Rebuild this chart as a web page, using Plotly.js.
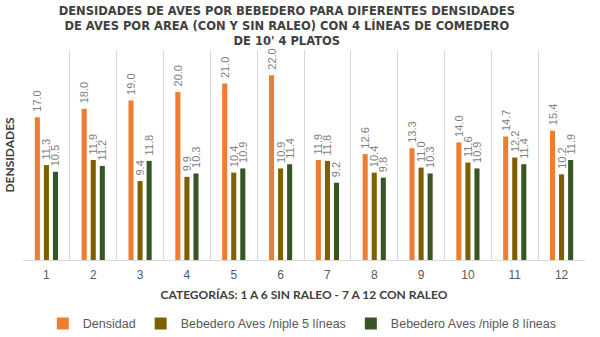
<!DOCTYPE html>
<html>
<head>
<meta charset="utf-8">
<script src="https://cdn.plot.ly/plotly-3.0.1.min.js"></script>
<style>html,body{margin:0;padding:0;background:#fff;}#chart{width:600px;height:337px;}</style>
</head>
<body>
<div id="chart"></div>
<script>
const categories = ["1","2","3","4","5","6","7","8","9","10","11","12"];
const densidad = [17.0, 18.0, 19.0, 20.0, 21.0, 22.0, 11.9, 12.6, 13.3, 14.0, 14.7, 15.4];
const niple5 = [11.3, 11.9, 9.4, 9.9, 10.4, 10.9, 11.8, 10.4, 11.0, 11.6, 12.2, 10.2];
const niple8 = [10.5, 11.2, 11.8, 10.3, 10.9, 11.4, 9.2, 9.8, 10.3, 10.9, 11.4, 11.9];
const seriesNames = ["Densidad", "Bebedero Aves /niple 5 líneas", "Bebedero Aves /niple 8 líneas"];
const seriesColors = ["#ED7D31", "#7F6000", "#375623"];

const labelFont = {family: "Liberation Sans, Arial, sans-serif", size: 11, color: "#7f7f7f"};
const vals = [densidad, niple5, niple8];
const data = vals.map((v, i) => ({
  type: "bar",
  x: categories,
  y: v,
  name: seriesNames[i],
  marker: {color: seriesColors[i]},
  texttemplate: "\u2002%{y:.1f}",
  textposition: "outside",
  textangle: -90,
  textfont: labelFont,
  constraintext: "none",
  cliponaxis: false,
  hoverinfo: "none"
}));

const layout = {
  width: 600, height: 337,
  margin: {l: 23, r: 15, t: 50, b: 77},
  paper_bgcolor: "#ffffff",
  plot_bgcolor: "#ffffff",
  barmode: "group",
  bargap: 0.42,
  bargroupgap: 0.44,
  title: {
    text: "DENSIDADES DE AVES POR BEBEDERO PARA DIFERENTES DENSIDADES<br>DE AVES POR AREA (CON Y SIN RALEO) CON 4 LÍNEAS DE COMEDERO<br>DE 10' 4 PLATOS",
    font: {family: "DejaVu Sans, sans-serif", size: 11.5, color: "#404040", weight: "bold"},
    x: 0.478, xanchor: "center",
    yref: "container", y: 0.956, yanchor: "middle"
  },
  xaxis: {
    type: "category",
    automargin: false,
    tickson: "boundaries",
    showgrid: true,
    gridcolor: "#d9d9d9",
    gridwidth: 1,
    showline: true,
    linecolor: "#d9d9d9",
    ticks: "",
    ticklabelstandoff: 4,
    tickfont: {family: "Liberation Sans, Arial, sans-serif", size: 12, color: "#595959"},
    title: {
      text: "CATEGORÍAS: 1 A 6 SIN RALEO - 7 A 12 CON RALEO",
      font: {family: "Lato, sans-serif", size: 12, color: "#404040", weight: "bold"},
      standoff: 9
    }
  },
  yaxis: {
    range: [0, 25],
    automargin: false,
    showgrid: false,
    zeroline: false,
    showticklabels: false,
    ticks: "",
    title: {
      text: "DENSIDADES",
      font: {family: "Lato, sans-serif", size: 12, color: "#404040", weight: "bold"},
      standoff: 4
    }
  },
  legend: {
    orientation: "h",
    x: 0.497, xanchor: "center",
    yref: "container",
    y: 0.0386, yanchor: "middle",
    font: {family: "Liberation Sans, Arial, sans-serif", size: 12.5, color: "#595959"},
    itemwidth: 30,
    tracegroupgap: 0
  },
  showlegend: true
};

Plotly.newPlot("chart", data, layout, {displayModeBar: false, staticPlot: true});
</script>
</body>
</html>
